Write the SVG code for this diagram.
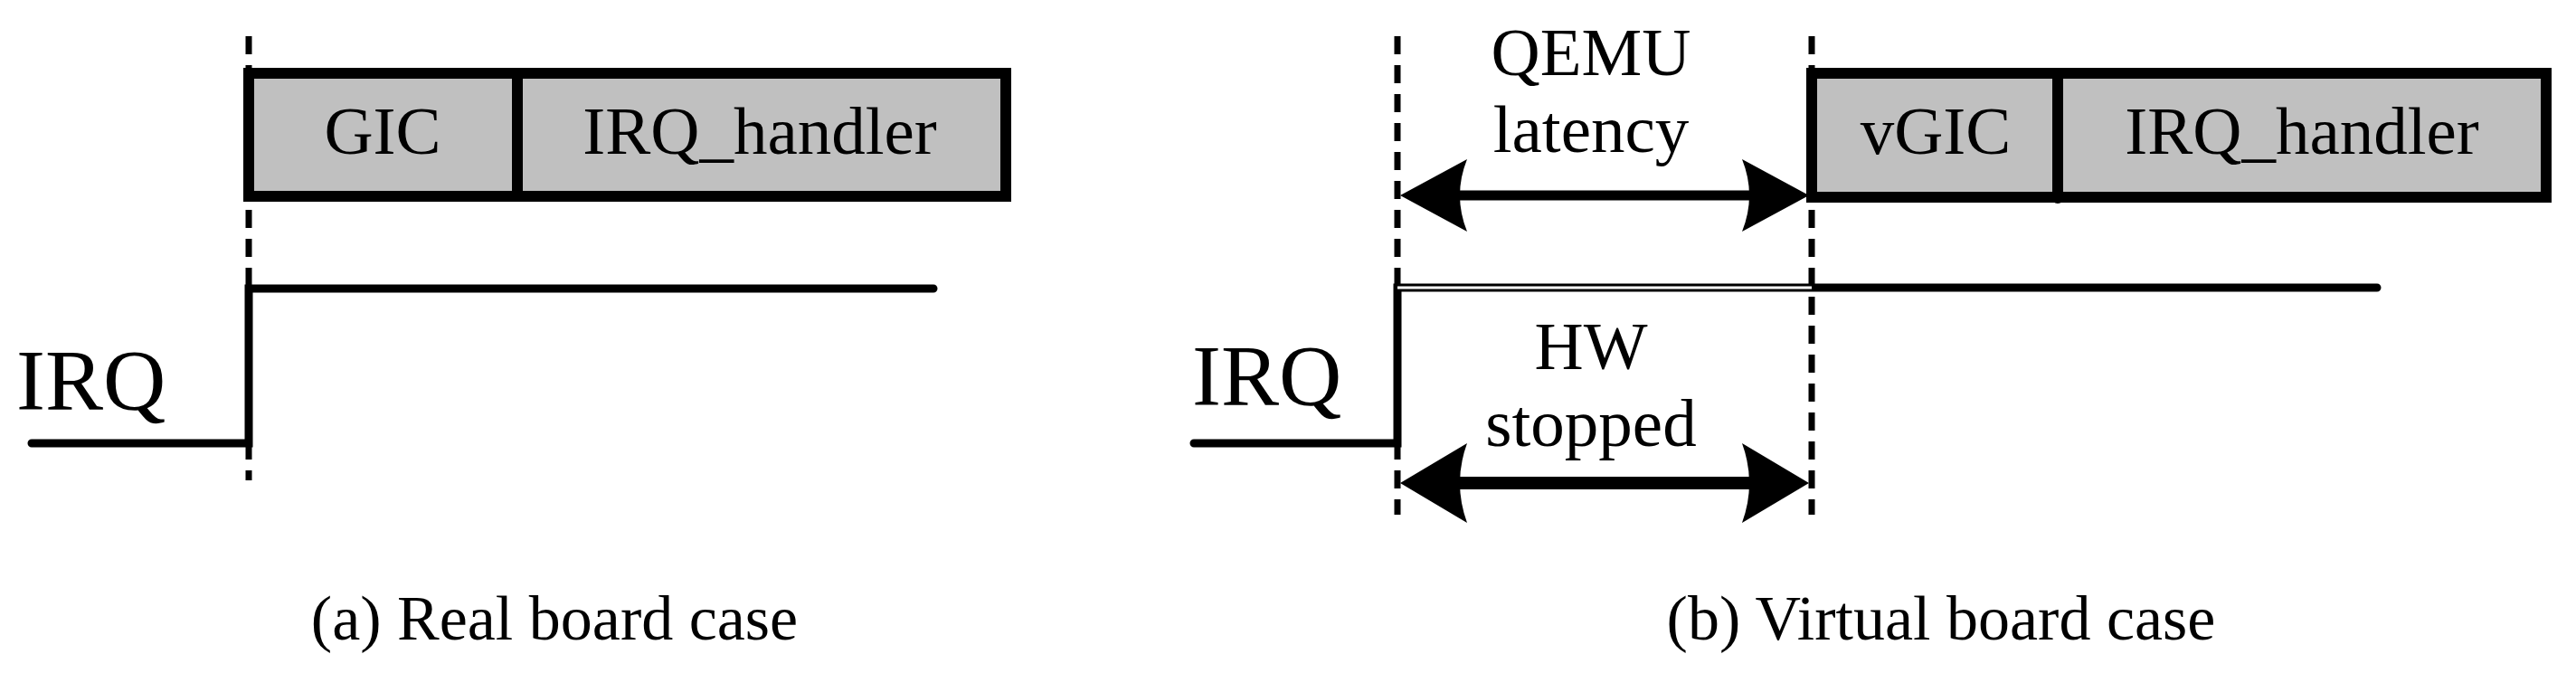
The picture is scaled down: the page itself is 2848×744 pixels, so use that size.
<svg xmlns="http://www.w3.org/2000/svg" width="2848" height="744" viewBox="0 0 2848 744">
<style>
text{font-family:"Liberation Serif","Times New Roman",serif;fill:#000}
.lbl{font-size:75px}
.big{font-size:96px}
.cap{font-size:70px}
.box{fill:#c0c0c0;stroke:none}
.bd{stroke:#000;stroke-width:12;fill:none}
.sig{stroke:#000;stroke-width:9;fill:none;stroke-linecap:round}
.dash{stroke:#000;stroke-width:7;stroke-dasharray:20 12;fill:none}
.ah{fill:#000}
</style>
<rect width="2848" height="744" fill="#fff"/>
<g id="connectors">
<line class="dash" x1="275" y1="40" x2="275" y2="531"/>
<line class="dash" x1="1545" y1="40" x2="1545" y2="569"/>
<line class="dash" x1="2003" y1="40" x2="2003" y2="569"/>
<path class="sig" d="M35,490 H275 V319 H1032"/>
<path class="sig" d="M1320,490 H1545 V318 H2628"/>
<line x1="1545" y1="318" x2="2003" y2="318" stroke="#fff" stroke-width="3"/>
<line x1="1600" y1="216" x2="1950" y2="216" stroke="#000" stroke-width="11"/>
<path class="ah" d="M1548,216 L1622,176 Q1606,216 1622,256 Z"/>
<path class="ah" d="M2000,216 L1926,176 Q1942,216 1926,256 Z"/>
<line x1="1600" y1="534" x2="1950" y2="534" stroke="#000" stroke-width="14"/>
<path class="ah" d="M1548,534 L1622,490 Q1606,534 1622,578 Z"/>
<path class="ah" d="M2000,534 L1926,490 Q1942,534 1926,578 Z"/>
</g>
<g id="gic">
<rect class="box" x="275" y="81" width="297" height="136"/>
<text class="lbl" x="423" y="170" text-anchor="middle">GIC</text>
</g>
<g id="irq_handler_a">
<rect class="box" x="572" y="81" width="540" height="136"/>
<text class="lbl" x="840" y="170" text-anchor="middle">IRQ_handler</text>
</g>
<path class="bd" d="M275,81 H1112 V217 H275 Z M572,81 V217"/>
<g id="vgic">
<rect class="box" x="2003" y="81" width="272" height="137"/>
<text class="lbl" x="2140" y="170" text-anchor="middle">vGIC</text>
</g>
<g id="irq_handler_b">
<rect class="box" x="2275" y="81" width="540" height="137"/>
<text class="lbl" x="2545" y="170" text-anchor="middle">IRQ_handler</text>
</g>
<path class="bd" d="M2003,81 H2815 V218 H2003 Z M2275,81 V218"/>
<circle cx="2275" cy="218" r="7"/>
<g id="labels">
<text class="big" x="18" y="453">IRQ</text>
<text class="big" x="1318" y="448">IRQ</text>
<text class="lbl" x="1759" y="83" text-anchor="middle">QEMU</text>
<text class="lbl" x="1759" y="168" text-anchor="middle">latency</text>
<text class="lbl" x="1759" y="408" text-anchor="middle">HW</text>
<text class="lbl" x="1759" y="493" text-anchor="middle">stopped</text>
<text class="cap" x="613" y="707" text-anchor="middle">(a) Real board case</text>
<text class="cap" x="2146" y="707" text-anchor="middle">(b) Virtual board case</text>
</g>
</svg>
